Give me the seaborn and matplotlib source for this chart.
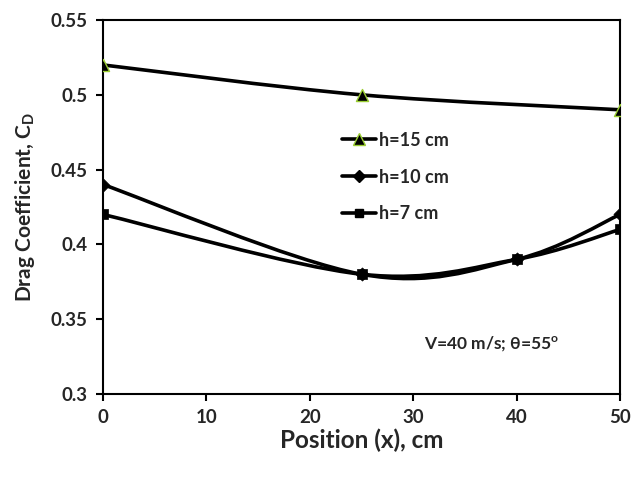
import numpy as np
import pandas as pd
import matplotlib
matplotlib.use("Agg")
import matplotlib.pyplot as plt
import seaborn as sns
from matplotlib.path import Path
from matplotlib.patches import PathPatch
from matplotlib.lines import Line2D

# Data
x_pos = [0, 25, 40, 50]
x_pos_15 = [0, 25, 50]
cd_h15 = [0.52, 0.50, 0.49]
cd_h10 = [0.44, 0.38, 0.39, 0.42]
cd_h7 = [0.42, 0.38, 0.39, 0.41]
labels = ["h=15 cm", "h=10 cm", "h=7 cm"]

sns.set_style("ticks")
plt.rcParams['font.family'] = ['Lato', 'DejaVu Sans']
plt.rcParams['mathtext.fontset'] = 'custom'
plt.rcParams['mathtext.bf'] = 'Lato:bold'
plt.rcParams['mathtext.rm'] = 'Lato'
plt.rcParams['mathtext.default'] = 'bf'


def smooth_path(xs, ys):
    # Excel-style smoothed line: Bezier segments through the data points
    pts = np.column_stack([xs, ys]).astype(float)
    n = len(pts)
    verts = [pts[0]]
    codes = [Path.MOVETO]
    for i in range(n - 1):
        p0 = pts[i - 1] if i > 0 else pts[i]
        p1 = pts[i]
        p2 = pts[i + 1]
        p3 = pts[i + 2] if i + 2 < n else pts[i + 1]
        c1 = p1 + (p2 - p0) / 6.0
        c2 = p2 - (p3 - p1) / 6.0
        verts += [c1, c2, p2]
        codes += [Path.CURVE4] * 3
    return Path(verts, codes)


df = pd.concat([
    pd.DataFrame({"x": x_pos_15, "cd": cd_h15, "series": labels[0]}),
    pd.DataFrame({"x": x_pos, "cd": cd_h10, "series": labels[1]}),
    pd.DataFrame({"x": x_pos, "cd": cd_h7, "series": labels[2]}),
])

fig, ax = plt.subplots(figsize=(6.44, 4.78), dpi=100)
fig.subplots_adjust(left=0.16, right=0.963, top=0.958, bottom=0.176)

for xs, ys in [(x_pos_15, cd_h15), (x_pos, cd_h10), (x_pos, cd_h7)]:
    ax.add_patch(PathPatch(smooth_path(xs, ys), facecolor="none",
                           edgecolor="black", lw=2.6, zorder=2))

sns.scatterplot(data=df[df.series == labels[0]], x="x", y="cd", marker="^",
                s=75, color="black", edgecolor="#9acd32", linewidth=1.0,
                ax=ax, zorder=3, legend=False)
sns.scatterplot(data=df[df.series == labels[1]], x="x", y="cd", marker="D",
                s=45, color="black", edgecolor="black", linewidth=0.5,
                ax=ax, zorder=3, legend=False)
sns.scatterplot(data=df[df.series == labels[2]], x="x", y="cd", marker="s",
                s=50, color="black", edgecolor="black", linewidth=0.5,
                ax=ax, zorder=3, legend=False)

ax.set_xlim(0, 50)
ax.set_ylim(0.3, 0.55)
ax.set_xticks([0, 10, 20, 30, 40, 50])
ax.set_yticks([0.3, 0.35, 0.4, 0.45, 0.5, 0.55])
ax.set_yticklabels(["0.3", "0.35", "0.4", "0.45", "0.5", "0.55"])
ax.tick_params(axis="both", direction="out", length=5, width=1.5,
               labelsize=13.5, color="black", pad=6)
for lab in ax.get_xticklabels() + ax.get_yticklabels():
    lab.set_fontweight("bold")
for sp in ax.spines.values():
    sp.set_visible(True)
    sp.set_linewidth(1.5)
    sp.set_color("black")

ax.set_xlabel("Position (x), cm", fontsize=17.5, fontweight="bold", labelpad=2)
ax.set_ylabel(r"Drag Coefficient, C$_D$", fontsize=15, fontweight="bold",
              labelpad=10)

handles = [
    Line2D([], [], color="black", lw=2.6, marker="^", markersize=8,
           markerfacecolor="black", markeredgecolor="#9acd32"),
    Line2D([], [], color="black", lw=2.6, marker="D", markersize=6),
    Line2D([], [], color="black", lw=2.6, marker="s", markersize=6),
]
leg = ax.legend(handles, labels, loc="upper left",
                bbox_to_anchor=(0.43, 0.745), frameon=False,
                handlelength=1.9, handletextpad=0.15, labelspacing=1.1,
                prop={"size": 13, "weight": "bold"})

ax.text(0.752, 0.136, "V=40 m/s; θ=55$^\\mathregular{o}$", transform=ax.transAxes,
        ha="center", va="center", fontsize=12.5, fontweight="bold")

fig.savefig("out.png", dpi=100)
